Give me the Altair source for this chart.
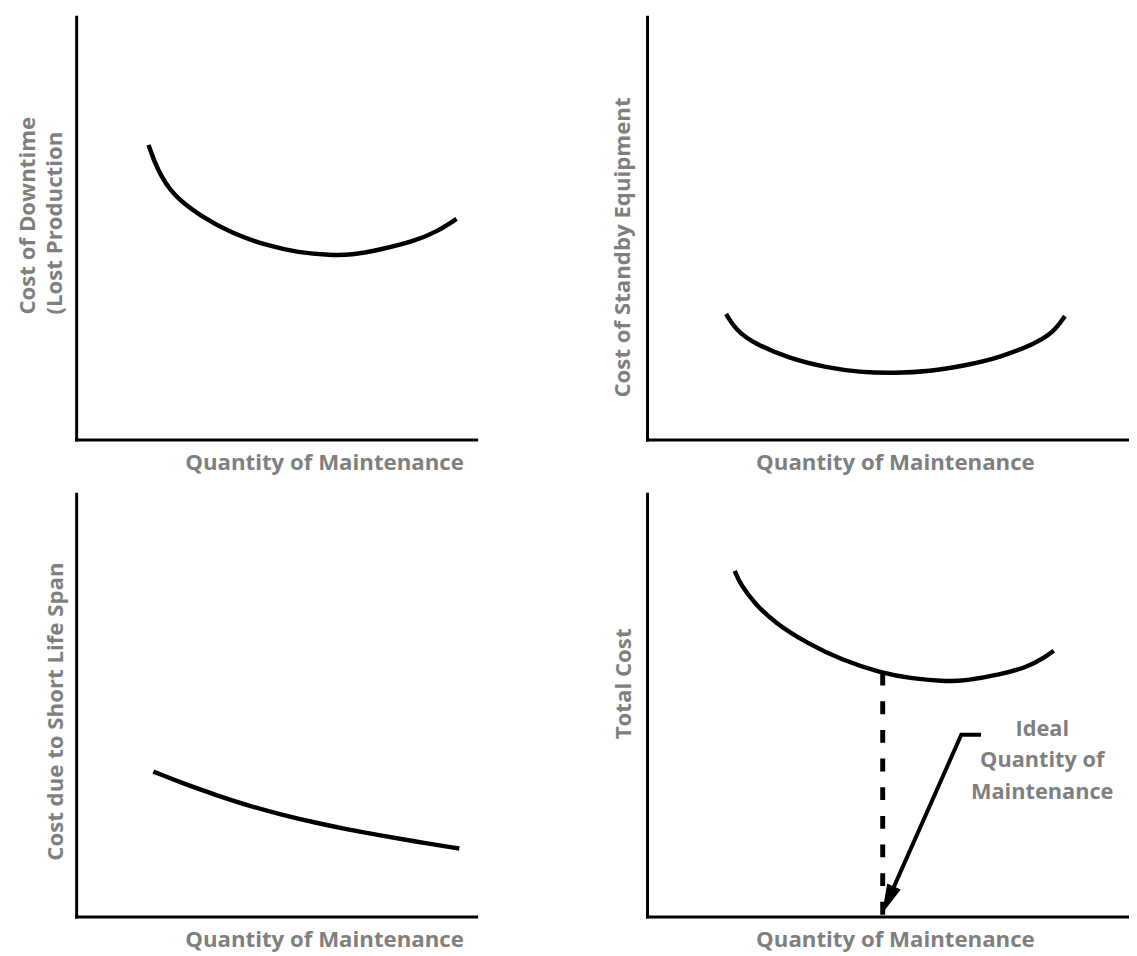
import altair as alt
import pandas as pd

# ---------------- data (panel units: 0-100 on both axes) ----------------
x_title = "Quantity of Maintenance"

down_title = ["Cost of Downtime", "(Lost Production"]
down_x = [18.1, 20.2, 24.3, 30.9, 39.1, 47.3, 55.6, 63.7, 68.6, 76.0, 84.4, 90.1, 95.1]
down_y = [69.7, 63.9, 57.6, 53.0, 48.7, 46.0, 44.2, 43.6, 43.6, 44.9, 46.9, 49.1, 52.2]

standby_title = "Cost of Standby Equipment"
standby_x = [16.4, 18.6, 22.3, 29.5, 36.9, 44.1, 51.4, 58.6, 66.0, 73.2, 80.5, 84.2, 86.7]
standby_y = [29.7, 25.7, 22.7, 19.2, 17.1, 15.9, 15.7, 16.1, 17.5, 19.4, 22.7, 25.2, 29.2]

life_title = "Cost due to Short Life Span"
life_x = [19.3, 26.7, 35.1, 43.2, 51.4, 59.8, 67.9, 76.0, 84.4, 95.8]
life_y = [34.3, 31.5, 28.7, 26.2, 24.1, 22.2, 20.6, 19.2, 17.8, 16.1]

total_title = "Total Cost"
total_x = [18.2, 19.3, 22.3, 26.6, 33.2, 40.4, 48.4, 54.9, 62.3, 66.0, 73.2, 79.1, 82.6, 84.4]
total_y = [81.8, 78.7, 74.1, 69.4, 64.7, 60.7, 57.7, 56.3, 55.6, 55.8, 57.2, 59.1, 61.4, 62.9]

ideal_x = [48.9]          # ideal quantity (dashed drop line)
ideal_top = [57.7]        # where it meets the total-cost curve

arrow_x = [69.3, 65.2, 50.0]
arrow_y = [43.0, 43.0, 3.9]
arrow_order = [0, 1, 2]

label_lines = ["Ideal", "Quantity of", "Maintenance"]
label_x = [82.0]
label_y = [42.8]

# ---------------- style ----------------
FONT = "Open Sans"
GRAY = "#7f7f7f"
FS = 22.5
LW = 4.5

LEFT_W, RIGHT_W, H = 405, 488, 428


def xaxis():
    return alt.X(
        "x:Q",
        scale=alt.Scale(domain=[0, 100], nice=False, zero=False),
        axis=alt.Axis(
            title=x_title, titleX=251, titleY=30, titleAlign="center",
            titleBaseline="alphabetic", titleLimit=1000,
        ),
    )


def yaxis(title, tx, ty, lh=27):
    return alt.Y(
        "y:Q",
        scale=alt.Scale(domain=[0, 100], nice=False, zero=False),
        axis=alt.Axis(
            title=title, titleX=tx, titleY=ty, titleAngle=270,
            titleAlign="left", titleBaseline="alphabetic",
            titleLineHeight=lh, titleLimit=1000,
        ),
    )


def curve(xs, ys, title, tx, ty, w):
    df = pd.DataFrame({"x": xs, "y": ys})
    return (
        alt.Chart(df)
        .mark_line(color="black", strokeWidth=LW, interpolate="basis")
        .encode(x=xaxis(), y=yaxis(title, tx, ty))
        .properties(width=w, height=H)
    )


p1 = curve(down_x, down_y, down_title, -42, 301, LEFT_W)
p2 = curve(standby_x, standby_y, standby_title, -17.5, 385, RIGHT_W)
p3 = curve(life_x, life_y, life_title, -14, 371, LEFT_W)

tot = curve(total_x, total_y, total_title, -17, 248, RIGHT_W)

drop = (
    alt.Chart(pd.DataFrame({"x": ideal_x, "y": ideal_top, "y2": [0] * len(ideal_x)}))
    .mark_rule(color="black", strokeWidth=5, strokeDash=[13, 16])
    .encode(x="x:Q", y="y:Q", y2="y2:Q")
)

arrow_line = (
    alt.Chart(pd.DataFrame({"x": arrow_x, "y": arrow_y, "o": arrow_order}))
    .mark_line(color="black", strokeWidth=4, strokeJoin="miter")
    .encode(x="x:Q", y="y:Q", order="o:O")
)

arrow_head = (
    alt.Chart(pd.DataFrame({"x": [arrow_x[-1]], "y": [arrow_y[-1]]}))
    .mark_point(shape="M0,-1L0.5,1L-0.5,1Z", size=900, filled=True,
                color="black", opacity=1, angle=203.8)
    .encode(x="x:Q", y="y:Q")
)

label = (
    alt.Chart(pd.DataFrame({"x": label_x, "y": label_y, "t": ["\n".join(label_lines)]}))
    .mark_text(font=FONT, fontSize=22, fontWeight="bold", color=GRAY,
               align="center", baseline="alphabetic", lineBreak="\n", lineHeight=32)
    .encode(x="x:Q", y="y:Q", text="t:N")
)

p4 = alt.layer(tot, drop, arrow_line, arrow_head, label).properties(width=RIGHT_W, height=H)

chart = (
    alt.concat(p1, p2, p3, p4, columns=2, spacing={"row": 55, "column": 173},
               bounds="flush", align="each")
    .properties(padding={"left": 8, "top": 3, "right": 0, "bottom": 0})
    .configure_view(stroke=None)
    .configure_axis(
        domain=True, domainColor="black", domainWidth=3, domainCap="square",
        ticks=False, labels=False, grid=False,
        titleFont=FONT, titleFontSize=FS, titleFontWeight="bold", titleColor=GRAY,
    )
)

chart.save("out.html", embed_options={"renderer": "svg", "actions": False})
